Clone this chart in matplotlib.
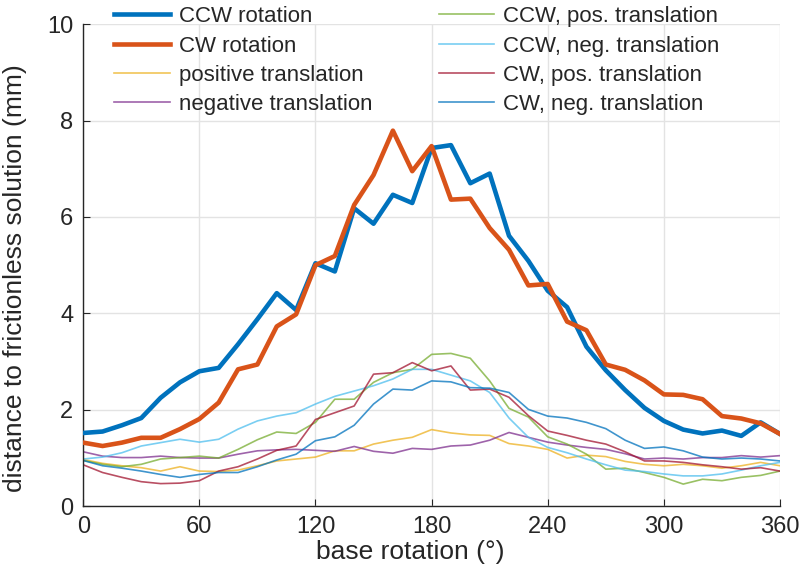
import matplotlib
matplotlib.use("Agg")
import matplotlib.pyplot as plt
import numpy as np

plt.rcParams['font.family'] = ['Liberation Sans', 'DejaVu Sans']

angles = list(range(0, 361, 10))

ccw_rotation = [1.52, 1.55, 1.68, 1.83, 2.25, 2.57, 2.80, 2.87, 3.36, 3.88, 4.42, 4.07, 5.04, 4.87,
                6.18, 5.86, 6.46, 6.29, 7.43, 7.49, 6.70, 6.90, 5.61, 5.09, 4.47, 4.13, 3.31, 2.82,
                2.41, 2.04, 1.77, 1.59, 1.51, 1.57, 1.46, 1.74, 1.50]
cw_rotation = [1.32, 1.25, 1.32, 1.42, 1.42, 1.60, 1.81, 2.15, 2.84, 2.94, 3.73, 3.98, 5.00, 5.19,
               6.25, 6.87, 7.79, 6.95, 7.47, 6.36, 6.38, 5.77, 5.32, 4.58, 4.61, 3.83, 3.65, 2.94,
               2.83, 2.61, 2.32, 2.31, 2.22, 1.87, 1.82, 1.72, 1.50]
pos_translation = [0.97, 0.89, 0.84, 0.80, 0.73, 0.82, 0.73, 0.72, 0.75, 0.84, 0.94, 0.98, 1.02, 1.15,
                   1.15, 1.29, 1.37, 1.43, 1.59, 1.52, 1.48, 1.47, 1.30, 1.25, 1.18, 1.00, 1.06, 1.03,
                   0.93, 0.87, 0.84, 0.87, 0.84, 0.79, 0.84, 0.91, 0.84]
neg_translation = [1.13, 1.04, 1.01, 1.01, 1.04, 1.01, 1.00, 1.00, 1.08, 1.15, 1.17, 1.18, 1.16, 1.14,
                   1.24, 1.14, 1.10, 1.20, 1.18, 1.25, 1.27, 1.37, 1.53, 1.43, 1.33, 1.27, 1.22, 1.18,
                   1.09, 0.98, 1.00, 0.98, 1.01, 1.01, 1.05, 1.02, 1.05]
ccw_pos = [0.95, 0.87, 0.82, 0.87, 0.98, 1.01, 1.04, 1.00, 1.18, 1.38, 1.54, 1.51, 1.74, 2.22,
           2.22, 2.57, 2.77, 2.84, 3.15, 3.17, 3.07, 2.60, 2.03, 1.85, 1.44, 1.29, 1.08, 0.77,
           0.79, 0.70, 0.60, 0.46, 0.56, 0.53, 0.60, 0.64, 0.73]
ccw_neg = [0.98, 1.02, 1.11, 1.25, 1.32, 1.39, 1.33, 1.39, 1.60, 1.77, 1.87, 1.94, 2.12, 2.28,
           2.39, 2.50, 2.64, 2.84, 2.84, 2.72, 2.60, 2.36, 1.83, 1.43, 1.22, 1.11, 0.98, 0.86,
           0.75, 0.72, 0.67, 0.63, 0.63, 0.67, 0.75, 0.84, 0.91]
cw_pos = [0.86, 0.70, 0.60, 0.51, 0.47, 0.48, 0.53, 0.73, 0.82, 0.98, 1.16, 1.25, 1.80, 1.94,
          2.08, 2.74, 2.77, 2.98, 2.81, 2.91, 2.41, 2.43, 2.26, 1.88, 1.56, 1.47, 1.37, 1.29,
          1.13, 0.94, 0.94, 0.91, 0.86, 0.82, 0.77, 0.80, 0.73]
cw_neg = [0.95, 0.84, 0.79, 0.73, 0.66, 0.60, 0.66, 0.70, 0.70, 0.82, 0.96, 1.08, 1.36, 1.44,
          1.68, 2.12, 2.43, 2.41, 2.60, 2.58, 2.46, 2.45, 2.36, 2.01, 1.87, 1.83, 1.74, 1.61,
          1.37, 1.20, 1.23, 1.15, 1.02, 0.98, 1.00, 0.98, 0.94]

xticks = [0, 60, 120, 180, 240, 300, 360]
yticks = [0, 2, 4, 6, 8, 10]

fig = plt.figure(figsize=(8.0, 5.88), dpi=100)
ax = fig.add_axes([0.104, 0.139, 0.871, 0.820])

thin = 1.2
a = 0.75
l1, = ax.plot(angles, ccw_rotation, color='#0072BD', lw=3.3, label='CCW rotation', zorder=5)
l2, = ax.plot(angles, cw_rotation, color='#D95319', lw=3.3, label='CW rotation', zorder=5)
l3, = ax.plot(angles, pos_translation, color='#EDB120', lw=thin, alpha=a, label='positive translation')
l4, = ax.plot(angles, neg_translation, color='#7E2F8E', lw=thin, alpha=a, label='negative translation')
l5, = ax.plot(angles, ccw_pos, color='#77AC30', lw=thin, alpha=a, label='CCW, pos. translation')
l6, = ax.plot(angles, ccw_neg, color='#4DBEEE', lw=thin, alpha=a, label='CCW, neg. translation')
l7, = ax.plot(angles, cw_pos, color='#A2142F', lw=thin, alpha=a, label='CW, pos. translation')
l8, = ax.plot(angles, cw_neg, color='#0072BD', lw=thin, alpha=a, label='CW, neg. translation')

ax.set_xlim(0, 360)
ax.set_ylim(0, 10)
ax.set_xticks(xticks)
ax.set_yticks(yticks)
ax.tick_params(direction='in', length=5, width=0.8, colors='#262626', labelsize=17, pad=7)
ax.grid(True, color='#e3e3e3', lw=1.0)
ax.set_axisbelow(True)
for s in ['top', 'right']:
    ax.spines[s].set_visible(False)
for s in ['left', 'bottom']:
    ax.spines[s].set_color('#262626')
    ax.spines[s].set_linewidth(1.0)

ax.set_xlabel('base rotation (°)', fontsize=19, color='#262626', labelpad=0)
ax.xaxis.set_label_coords(0.47, -0.07)
ax.set_ylabel('distance to frictionless solution (mm)', fontsize=19, color='#262626', labelpad=6)
ax.yaxis.set_label_coords(-0.081, 0.473)

leg = ax.legend(handles=[l1, l2, l3, l4, l5, l6, l7, l8], ncol=2, frameon=False,
                loc='upper left', bbox_to_anchor=(0.0445, 1.037), fontsize=16,
                handlelength=2.5, handletextpad=0.4, columnspacing=3.0,
                labelspacing=0.375, borderpad=0.0, borderaxespad=0.0)
for t in leg.get_texts():
    t.set_color('#262626')

fig.savefig('out.png', dpi=100)
